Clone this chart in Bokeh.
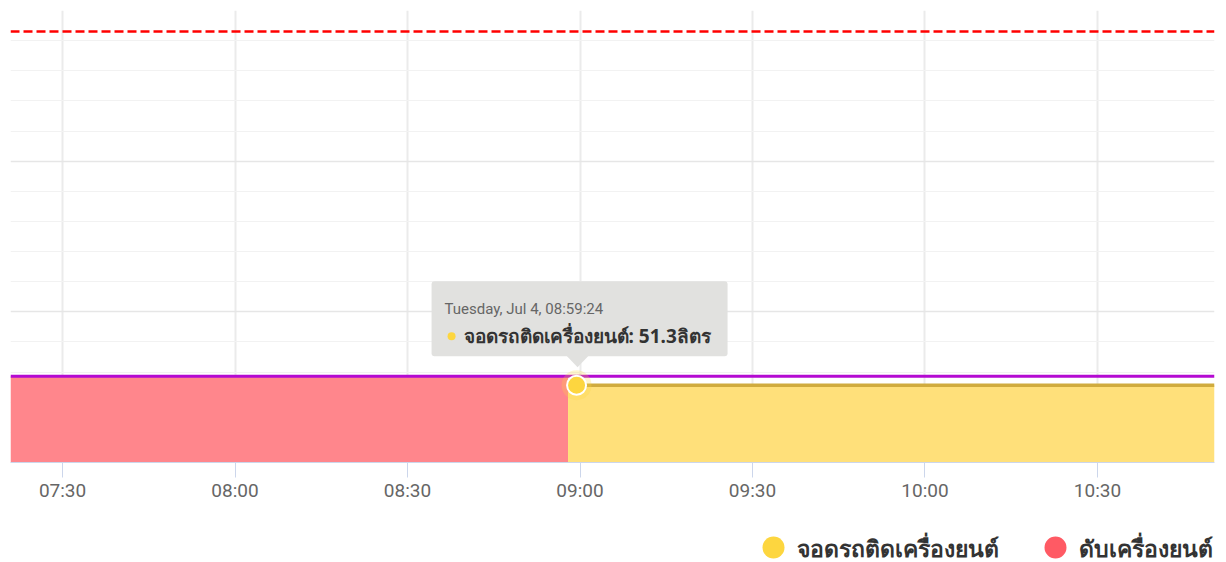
import pandas as pd
from bokeh.plotting import figure
from bokeh.layouts import column
from bokeh.models import (Range1d, FixedTicker, BoxAnnotation, PolyAnnotation, Label, Span)
from bokeh.core.properties import value
from bokeh.embed import file_html
from bokeh.resources import INLINE

# ---------------- data ----------------
day = "2023-07-04"
view_start = "07:20:57"
view_end = "10:50:21"

series_names = ["จอดรถติดเครื่องยนต์", "ดับเครื่องยนต์"]
unit = "ลิตร"

engine_off_times = ["07:20:57", "08:57:55"]
engine_off_values = [57.3, 57.3]

idle_times = ["08:57:55", "08:59:24", "10:50:21"]
idle_values = [51.3, 51.3, 51.3]

fuel_times = ["07:20:57", "10:50:21"]
fuel_values = [57.3, 57.3]

limit_value = 286

hover_time = "08:59:24"
hover_value = 51.3
hover_title = "Tuesday, Jul 4, 08:59:24"

tick_labels = ["07:30", "08:00", "08:30", "09:00", "09:30", "10:00", "10:30"]
y_major = [0, 100, 200, 300]
y_minor = [20, 40, 60, 80, 120, 140, 160, 180, 220, 240, 260, 280]

# ---------------- colours / style ----------------
RED = "#ff5a64"
RED_FILL = "#ff868c"
YELLOW = "#fdd63f"
YELLOW_FILL = "#ffe07a"
GOLD = "#d0ab3e"
PURPLE = "#b40ad2"
TICK_FONT = "Roboto"
THAI_FONT = "Noto Sans"


def ms(t):
    return pd.Timestamp(f"{day} {t}").value // 10**6


W = 1226
ML, MR, MT, MB = 10, 12, 10, 50
FW, FH = W - ML - MR, 452
H = MT + FH + MB
LEG_H = 562 - H

x0, x1 = ms(view_start), ms(view_end)
p = figure(width=W, height=H, x_axis_type="datetime", y_axis_location=None,
           x_range=Range1d(x0, x1), y_range=Range1d(0, 300),
           output_backend="svg", toolbar_location=None,
           min_border_left=ML, min_border_right=MR, min_border_top=MT, min_border_bottom=MB)
p.outline_line_color = None
p.background_fill_color = "white"
p.border_fill_color = "white"

# grids
tick_ms = [ms(t + ":00") for t in tick_labels]
p.xaxis.ticker = FixedTicker(ticks=tick_ms)
p.xaxis.major_label_overrides = {t: l for t, l in zip(tick_ms, tick_labels)}
p.xgrid.ticker = FixedTicker(ticks=tick_ms)
p.xgrid.grid_line_color = "#ebebeb"
p.xgrid.grid_line_width = 2
p.ygrid.ticker = FixedTicker(ticks=y_major, minor_ticks=y_minor)
p.ygrid.grid_line_color = "#e6e6e6"
p.ygrid.grid_line_width = 1.5
p.ygrid.minor_grid_line_color = "#f2f2f2"
p.ygrid.minor_grid_line_width = 1

# x axis
ax = p.xaxis[0]
ax.axis_line_color = "#ccd6eb"
ax.axis_line_width = 1
ax.major_tick_line_color = "#ccd6eb"
ax.major_tick_out = 15
ax.major_tick_in = 0
ax.minor_tick_line_color = None
ax.major_label_text_color = "#666666"
ax.major_label_text_font = TICK_FONT
ax.major_label_text_font_size = "19px"
ax.major_label_standoff = 1

# areas
off_x = [ms(t) for t in engine_off_times]
idle_x = [ms(t) for t in idle_times]
fuel_x = [ms(t) for t in fuel_times]

p.varea(x=off_x, y1=[0] * len(off_x), y2=engine_off_values, fill_color=RED_FILL)
p.varea(x=idle_x, y1=[0] * len(idle_x), y2=idle_values, fill_color=YELLOW_FILL)
p.line(idle_x, idle_values, line_color=GOLD, line_width=3.5)
p.line(fuel_x, fuel_values, line_color=PURPLE, line_width=3)

p.add_layout(Span(location=limit_value, dimension="width", line_color="#ff0000",
                  line_width=2.5, line_dash="9 4"))

# hovered point
hx = ms(hover_time)
p.scatter([hx], [hover_value], size=30, fill_color=YELLOW, fill_alpha=0.25, line_color=None)
p.scatter([hx], [hover_value], size=19, fill_color=YELLOW, line_color="white", line_width=2)

# tooltip (screen units relative to the frame)
fx = (hx - x0) / (x1 - x0) * FW
fy = hover_value / 300 * FH
TIP = "#e1e1df"
p.add_layout(BoxAnnotation(left=fx - 145, right=fx + 151, bottom=fy + 29, top=fy + 104,
                           left_units="screen", right_units="screen",
                           bottom_units="screen", top_units="screen",
                           fill_color=TIP, fill_alpha=1, line_color=None, border_radius=3))
p.add_layout(PolyAnnotation(xs=[fx - 10, fx + 12, fx + 1], ys=[fy + 29.5, fy + 29.5, fy + 18],
                            xs_units="screen", ys_units="screen",
                            fill_color=TIP, fill_alpha=1, line_color=None))
p.add_layout(BoxAnnotation(left=fx - 129, right=fx - 121, bottom=fy + 45, top=fy + 53,
                           left_units="screen", right_units="screen",
                           bottom_units="screen", top_units="screen",
                           fill_color=YELLOW, fill_alpha=1, line_color=None,
                           border_radius=4, level="overlay"))
p.add_layout(Label(x=hx, y=hover_value, x_offset=-132, y_offset=76, text=hover_title,
                   text_font=TICK_FONT, text_font_size="15px", text_color="#666666",
                   text_baseline="middle", text_align="left", level="overlay"))
p.add_layout(Label(x=hx, y=hover_value, x_offset=-113, y_offset=49,
                   text=f"{series_names[0]}: {hover_value}{unit}",
                   text_font=THAI_FONT, text_font_size="19px", text_font_style="bold",
                   text_color="#333333", text_baseline="middle", text_align="left",
                   level="overlay"))

# legend (its own strip under the chart; frame aligned with the chart frame,
# x in page pixels)
leg = figure(width=W, height=LEG_H, x_range=Range1d(ML, W - MR), y_range=Range1d(0, LEG_H),
             output_backend="svg", toolbar_location=None,
             x_axis_location=None, y_axis_location=None, min_border=0,
             min_border_left=ML, min_border_right=MR, min_border_top=0, min_border_bottom=0)
leg.outline_line_color = None
leg.xgrid.visible = False
leg.ygrid.visible = False
legend_colors = [YELLOW, RED]
legend_x = [773, 1055]
legend_y = [LEG_H - 35] * 2
leg.scatter(legend_x, legend_y, size=22, fill_color=legend_colors, line_color=None)
leg.text([x + 23 for x in legend_x], legend_y, text=series_names,
         text_font=value(THAI_FONT), text_font_size="23px", text_font_style="bold",
         text_color="#333333", text_baseline="middle", text_align="left")

layout = column(p, leg, spacing=0)
open("out.html", "w").write(file_html(layout, INLINE))
